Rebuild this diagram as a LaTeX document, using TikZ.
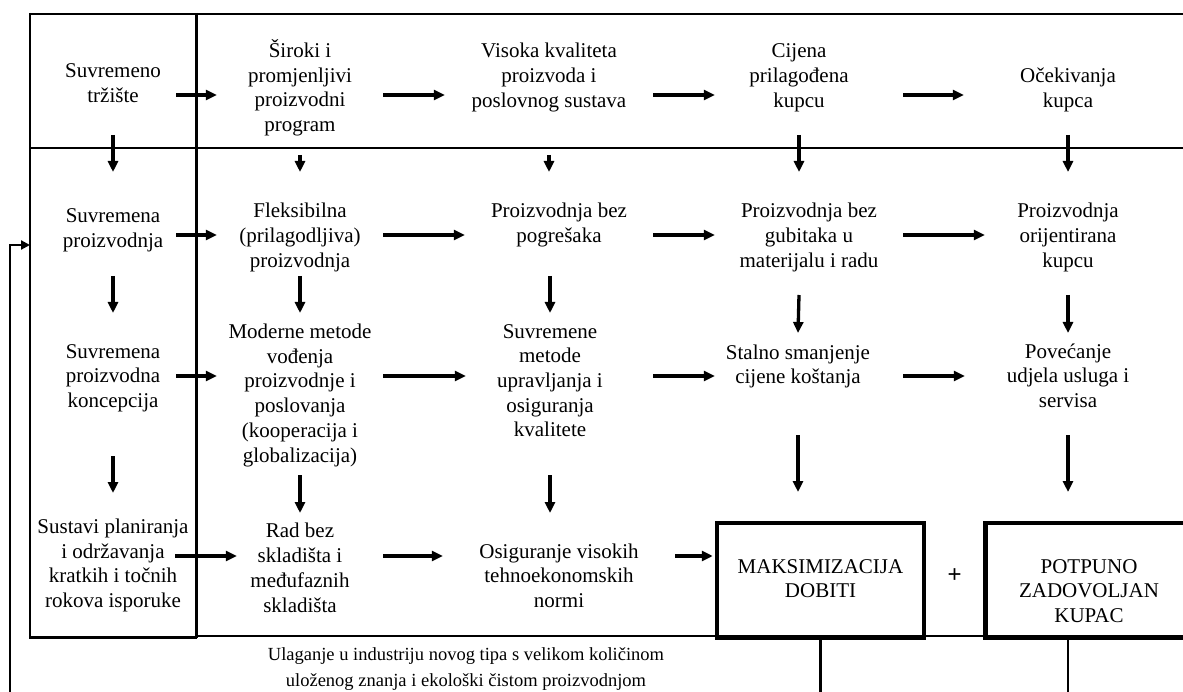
\documentclass[tikz,border=0pt]{standalone}
\usepackage{fontspec}
\setmainfont{Liberation Serif}
\newfontfamily\plusfont{Liberation Sans}
\usetikzlibrary{arrows.meta}
\begin{document}
\begin{tikzpicture}[x=1pt,y=-1pt,
  txt/.style={font=\fontsize{21}{24.7}\selectfont, align=center, inner sep=0pt, anchor=base},
  smalltxt/.style={font=\fontsize{18.5}{26.5}\selectfont, align=center, inner sep=0pt, anchor=base},
  frame/.style={line width=2.3pt},
  arr/.style={line width=3.3pt, -{Triangle[length=11pt,width=10pt]}},
  bigbox/.style={draw, line width=4.5pt, inner sep=0pt, minimum width=207pt, minimum height=114.5pt},
  fb/.style={line width=2.2pt},
  fbarr/.style={line width=2.2pt, -{Triangle[length=9pt,width=9pt]}}
]
\useasboundingbox (0,0) rectangle (1183,692);
% frame
\draw[frame] (30,14) -- (1195,14);
\draw[frame] (30,148) -- (1195,148);
\draw[frame] (30,13) -- (30,637.5) -- (196.5,637.5);
\draw[frame] (196.5,13) -- (196.5,637.5);
% row/level coordinates
\coordinate (r0) at (0,95);
\coordinate (r1) at (0,235);
\coordinate (r2) at (0,376);
\coordinate (r3) at (0,556);
\coordinate (va) at (0,135);
\coordinate (vb) at (0,155);
\coordinate (ve) at (0,172);
\coordinate (wa) at (0,276);
\coordinate (wb) at (0,295);
\coordinate (we) at (0,313);
\coordinate (wf) at (0,333);
\coordinate (ua) at (0,456);
\coordinate (ub) at (0,475);
\coordinate (uc) at (0,435);
\coordinate (ue) at (0,493);
\coordinate (uf) at (0,513);
\coordinate (ug) at (0,492);
% row 0 (y = baseline of last line)
\node[txt, minimum width=126pt] (A0) at (113,102.5) {Suvremeno\\tržište};
\node[txt, minimum width=166pt] (A1) at (300,131.5) {Široki i\\promjenljivi\\proizvodni\\program};
\node[txt, minimum width=208pt] (A2) at (549,107.4) {Visoka kvaliteta\\proizvoda i\\poslovnog sustava};
\node[txt, minimum width=188pt] (A3) at (799,107.4) {Cijena\\prilagođena\\kupcu};
\node[txt, minimum width=208pt] (A4) at (1068,107.7) {Očekivanja\\kupca};
% row 1
\node[txt, minimum width=126pt] (B0) at (113,247.7) {Suvremena\\proizvodnja};
\node[txt, minimum width=166pt] (B1) at (300,267.4) {Fleksibilna\\(prilagodljiva)\\proizvodnja};
\node[txt, minimum width=188pt] (B2) at (559,242.7) {Proizvodnja bez\\pogrešaka};
\node[txt, minimum width=188pt] (B3) at (809,267.4) {Proizvodnja bez\\gubitaka u\\materijalu i radu};
\node[txt, minimum width=166pt] (B4) at (1068,267.4) {Proizvodnja\\orijentirana\\kupcu};
% row 2
\node[txt, minimum width=126pt] (C0) at (113,407.4) {Suvremena\\proizvodna\\koncepcija};
\node[txt, minimum width=166pt] (C1) at (300,462) {Moderne metode\\vođenja\\proizvodnje i\\poslovanja\\(kooperacija i\\globalizacija)};
\node[txt, minimum width=188pt] (C2) at (550,436.8) {Suvremene\\metode\\upravljanja i\\osiguranja\\kvalitete};
\node[txt, minimum width=188pt] (C3) at (798,384) {Stalno smanjenje\\cijene koštanja};
\node[txt, minimum width=206pt] (C4) at (1068,407.4) {Povećanje\\udjela usluga i\\servisa};
% row 3
\node[txt] (D0) at (113,607.5) {Sustavi planiranja\\i održavanja\\kratkih i točnih\\rokova isporuke};
\node[txt, minimum width=166pt] (D1) at (300,612) {Rad bez\\skladišta i\\međufaznih\\skladišta};
\node[txt, minimum width=232pt] (D2) at (559,607.4) {Osiguranje visokih\\tehnoekonomskih\\normi};
\node[bigbox] (M) at (820.5,580.25) {};
\node[bigbox] (P) at (1089,580.25) {};
\node[txt] (Mt) at (820.5,597.7) {MAKSIMIZACIJA\\DOBITI};
\node[txt] (Pt) at (1089,622.4) {POTPUNO\\ZADOVOLJAN\\KUPAC};
\node[font=\plusfont\fontsize{24}{24}\selectfont, inner sep=0pt] (plus) at (954.5,576) {+};
% bottom line
\draw[frame] (196.5,636) -- (M.west |- 0,636);
\draw[frame] (M.east |- 0,636) -- (P.west |- 0,636);
\node[smalltxt] (note) at (466,686.5) {Ulaganje u industriju novog tipa s velikom količinom\\uloženog znanja i ekološki čistom proizvodnjom};
% horizontal arrows
\draw[arr] (A0.east |- r0) -- (A1.west |- r0);
\draw[arr] (A1.east |- r0) -- (A2.west |- r0);
\draw[arr, shorten >=-10pt] (A2.east |- r0) -- (A3.west |- r0);
\draw[arr, shorten <=10pt] (A3.east |- r0) -- (A4.west |- r0);
\draw[arr] (B0.east |- r1) -- (B1.west |- r1);
\draw[arr] (B1.east |- r1) -- (B2.west |- r1);
\draw[arr] (B2.east |- r1) -- (B3.west |- r1);
\draw[arr] (B3.east |- r1) -- (B4.west |- r1);
\draw[arr] (C0.east |- r2) -- (C1.west |- r2);
\draw[arr, shorten >=-10pt] (C1.east |- r2) -- (C2.west |- r2);
\draw[arr, shorten <=9pt, shorten >=-11pt] (C2.east |- r2) -- (C3.west |- r2);
\draw[arr, shorten <=11pt] (C3.east |- r2) -- (C4.west |- r2);
\draw[arr, shorten <=-13.5pt, shorten >=-20pt] (D0.east |- r3) -- (D1.west |- r3);
\draw[arr] (D1.east |- r3) -- (D2.west |- r3);
\draw[arr, shorten >=2pt] (D2.east |- r3) -- (M.west |- r3);
% vertical arrows
\draw[arr] (A0 |- va) -- (B0 |- ve);
\draw[arr] (A1 |- vb) -- (B1 |- ve);
\draw[arr] (A2 |- vb) -- (A2 |- ve);
\draw[arr] (A3 |- va) -- (A3 |- ve);
\draw[arr] (A4 |- va) -- (B4 |- ve);
\draw[arr] (B0 |- wa) -- (C0 |- we);
\draw[arr] (B1 |- wa) -- (C1 |- we);
\draw[arr] (C2 |- wa) -- (C2 |- we);
\draw[arr] (A3 |- wb) -- (C3 |- wf);
\draw[arr] (B4 |- wb) -- (C4 |- wf);
\draw[arr] (C0 |- ua) -- (D0 |- ue);
\draw[arr] (C1 |- ub) -- (D1 |- uf);
\draw[arr] (C2 |- ub) -- (C2 |- uf);
\draw[arr] (C3 |- uc) -- (C3 |- ug);
\draw[arr] (C4 |- uc) -- (C4 |- ug);
% feedback lines
\coordinate (fbend) at (0,700);
\coordinate (inL) at (30,245);
\draw[fb] (M.south) -- (M.south |- fbend);
\draw[fb] (P.south -| B4) -- (B4 |- fbend);
\draw[fbarr] (9.7,700) |- (inL);
\end{tikzpicture}
\end{document}
